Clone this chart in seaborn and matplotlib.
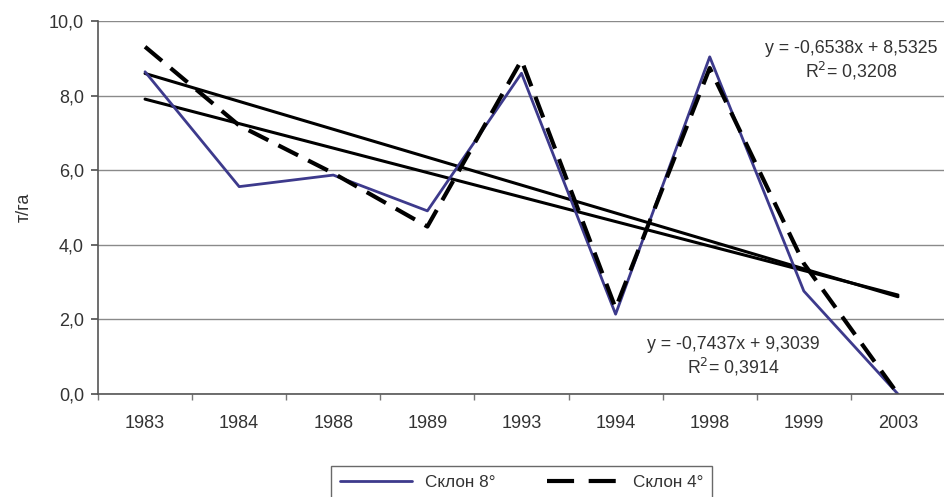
import numpy as np
import pandas as pd
import seaborn as sns
import matplotlib
matplotlib.use("Agg")
import matplotlib.pyplot as plt

years = ['1983', '1984', '1988', '1989', '1993', '1994', '1998', '1999', '2003']
slope8 = [8.64, 5.56, 5.87, 4.91, 8.60, 2.14, 9.04, 2.76, 0.0]
slope4 = [9.31, 7.20, 5.92, 4.49, 8.95, 2.30, 8.74, 3.50, 0.0]
eq8 = 'y = -0,6538x + 8,5325\nR$^2$= 0,3208'
eq4 = 'y = -0,7437x + 9,3039\nR$^2$= 0,3914'

sns.set_theme(style='white')
plt.rcParams['font.family'] = ['Liberation Sans', 'DejaVu Sans']

pos = np.arange(len(years))
df = pd.DataFrame({'pos': pos, 's8': slope8, 's4': slope4})

fig = plt.figure(figsize=(9.45, 4.97), dpi=100)
ax = fig.add_axes([0.1037, 0.2072, 0.8963, 0.7505])

ax.yaxis.grid(True, color='#8a8a8a', linewidth=1)
ax.set_axisbelow(True)

# линии тренда
sns.regplot(data=df, x='pos', y='s8', scatter=False, ci=None, ax=ax,
            line_kws=dict(color='black', linewidth=2.2))
sns.regplot(data=df, x='pos', y='s4', scatter=False, ci=None, ax=ax,
            line_kws=dict(color='black', linewidth=2.2))

sns.lineplot(data=df, x='pos', y='s8', ax=ax, color='#3d3a8c', linewidth=2,
             label='Склон 8°')
sns.lineplot(data=df, x='pos', y='s4', ax=ax, color='black', linewidth=3,
             dashes=False, linestyle=(0, (5.3, 2.7)), label='Склон 4°')

ax.set_xlim(-0.5, len(years) - 0.5)
ax.set_ylim(0, 10)
ax.set_yticks(np.arange(0, 10.1, 2))
ax.set_yticklabels([f'{v:.1f}'.replace('.', ',') for v in np.arange(0, 10.1, 2)])
ax.set_xticks(pos)
ax.set_xticklabels(years)
ax.set_xticks(np.arange(-0.5, len(years), 1), minor=True)
ax.tick_params(axis='x', which='major', length=0, pad=15, labelsize=13, labelcolor='#333333')
ax.tick_params(axis='x', which='minor', length=4, color='#777777', direction='out', bottom=True)
ax.tick_params(axis='y', length=5, color='#555555', direction='out', left=True,
               pad=5, labelsize=13, labelcolor='#333333')
ax.set_xlabel('')
ax.set_ylabel('т/га', fontsize=13, color='#333333', labelpad=12)

for s in ['top', 'right']:
    ax.spines[s].set_visible(False)
for s in ['left', 'bottom']:
    ax.spines[s].set_color('#555555')
    ax.spines[s].set_linewidth(1.2)

ax.text(7.5, 8.93, eq8, ha='center', va='center', fontsize=12.8, color='#333333',
        linespacing=1.2)
ax.text(6.25, 0.99, eq4, ha='center', va='center', fontsize=12.8, color='#333333',
        linespacing=1.2)

leg = ax.legend(loc='upper center', bbox_to_anchor=(0.5, -0.17), ncol=2, frameon=True,
                fancybox=False, edgecolor='#444444', fontsize=12.3, handlelength=4.2,
                columnspacing=3, borderpad=0.5)
leg.get_frame().set_linewidth(1)
for t in leg.get_texts():
    t.set_color('#333333')
leg.get_lines()[1].set_dashes([6.5, 3.5])

fig.savefig('out.png', dpi=100)
